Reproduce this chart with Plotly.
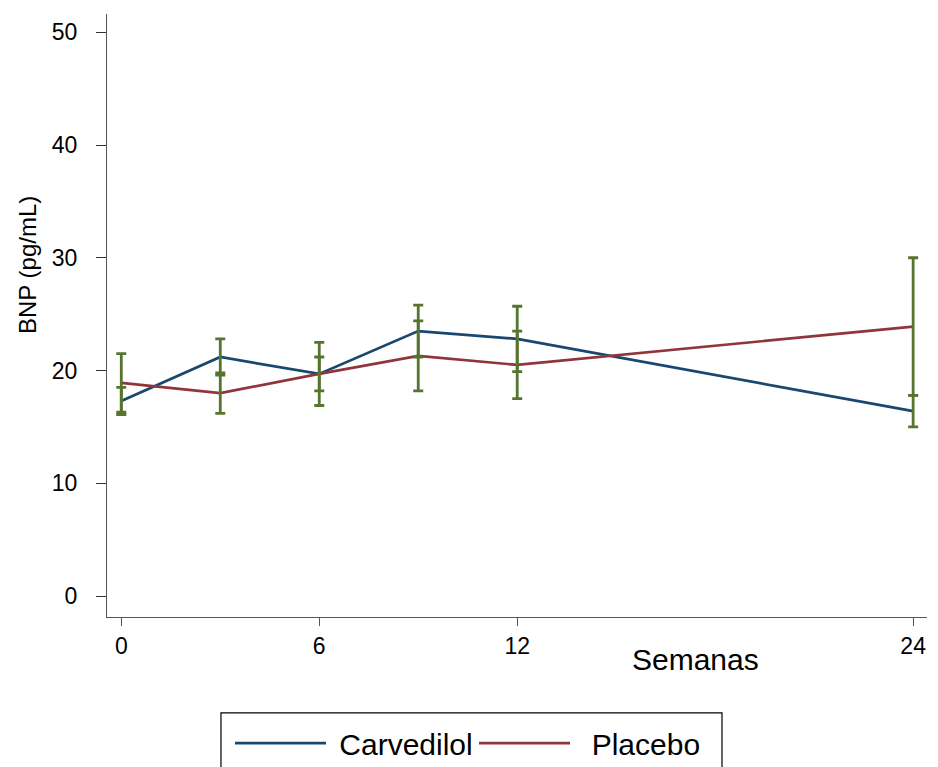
import plotly.graph_objects as go

weeks = [0, 3, 6, 9, 12, 24]
x_ticks = [0, 6, 12, 24]
y_ticks = [0, 10, 20, 30, 40, 50]

carvedilol_mean = [17.3, 21.2, 19.7, 23.5, 22.8, 16.4]
carvedilol_err = [1.2, 1.6, 1.5, 2.3, 2.9, 1.4]
placebo_mean = [18.9, 18.0, 19.7, 21.3, 20.5, 23.9]
placebo_err = [2.6, 1.8, 2.8, 3.1, 3.0, 6.1]

NAVY = "#1a476f"
MAROON = "#90353b"
GREEN = "#55752f"
FONT = "Liberation Sans, Arial, sans-serif"
NBSP = "\u00a0"

fig = go.Figure()
fig.add_trace(go.Scatter(x=weeks, y=carvedilol_mean, mode="lines", name=NBSP + "Carvedilol",
                         line=dict(color=NAVY, width=2.7), legend="legend"))
fig.add_trace(go.Scatter(x=weeks, y=placebo_mean, mode="lines", name=NBSP + NBSP + "Placebo",
                         line=dict(color=MAROON, width=2.7), legend="legend2"))
for m, e in [(carvedilol_mean, carvedilol_err), (placebo_mean, placebo_err)]:
    fig.add_trace(go.Scatter(x=weeks, y=m, mode="markers", showlegend=False, hoverinfo="skip",
                             marker=dict(size=1, color="rgba(0,0,0,0)"),
                             error_y=dict(type="data", array=e, visible=True, color=GREEN,
                                          thickness=2.8, width=5)))

leg_common = dict(orientation="h", xanchor="left", yanchor="top",
                  xref="container", yref="container",
                  font=dict(family=FONT, size=30, color="black"),
                  itemwidth=91, bgcolor="rgba(0,0,0,0)", borderwidth=0)

fig.update_layout(
    width=938, height=767,
    margin=dict(l=107, r=11, t=14, b=150, autoexpand=False),
    paper_bgcolor="white", plot_bgcolor="white",
    font=dict(family=FONT, color="black", size=23),
    showlegend=True,
    legend=dict(x=230 / 938, y=0.065, **leg_common),
    legend2=dict(x=474 / 938, y=0.065, **leg_common),
    xaxis=dict(range=[-0.433, 24.42], tickmode="array", tickvals=x_ticks,
               ticktext=[str(v) for v in x_ticks], showgrid=False, zeroline=False,
               showline=True, linecolor="#555555", linewidth=1.2,
               ticks="outside", ticklen=8, tickcolor="#555555", tickwidth=1.2,
               tickfont=dict(size=23)),
    yaxis=dict(range=[-1.86, 51.62], tickmode="array", tickvals=y_ticks,
               ticktext=[str(v) for v in y_ticks], showgrid=False, zeroline=False,
               showline=True, linecolor="#555555", linewidth=1.2,
               ticks="outside", ticklen=10, tickcolor="#333333", tickwidth=1.2,
               tickfont=dict(size=23), ticklabelstandoff=14),
    annotations=[
        dict(text="Semanas", xref="paper", yref="paper", x=0.7177, y=-0.0697,
             xanchor="center", yanchor="middle", showarrow=False,
             font=dict(family=FONT, size=30, color="black")),
        dict(text="BNP (pg/mL)", xref="paper", yref="paper", x=-0.0976, y=0.5837,
             xanchor="center", yanchor="middle", showarrow=False, textangle=-90,
             font=dict(family=FONT, size=24, color="black")),
    ],
    shapes=[dict(type="rect", xref="paper", yref="paper", x0=0.139, x1=0.75,
                 y0=-0.159, y1=-0.30, line=dict(color="black", width=1.2),
                 fillcolor="rgba(0,0,0,0)")],
)

fig.write_html("out.html", config={"displayModeBar": False},
               post_script="document.body.style.margin='0';document.body.style.overflow='hidden';")
